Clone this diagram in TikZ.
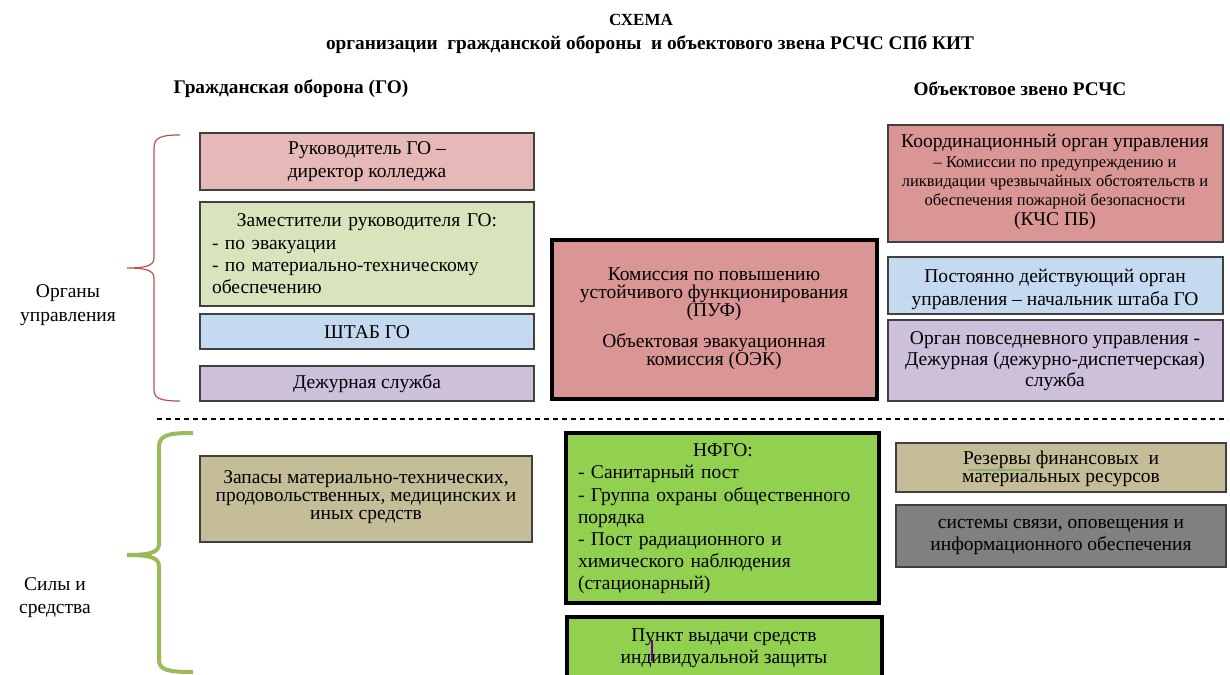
\documentclass[tikz,border=0pt]{standalone}
\usepackage{fontspec}
\setmainfont{Liberation Serif}
\usetikzlibrary{decorations.pathmorphing}
\definecolor{cPink}{HTML}{E6B8B7}
\definecolor{cLGreen}{HTML}{D8E4BC}
\definecolor{cBlue}{HTML}{C5D9F1}
\definecolor{cLilac}{HTML}{CCC0DA}
\definecolor{cRed}{HTML}{DA9694}
\definecolor{cKhaki}{HTML}{C4BD97}
\definecolor{cGreen}{HTML}{92D050}
\definecolor{cGray}{HTML}{808080}
\definecolor{cBraceR}{HTML}{C0504D}
\definecolor{cBraceG}{HTML}{9BBB59}
\definecolor{cEdge}{HTML}{404040}
\definecolor{cSpell}{HTML}{6BAA4B}
\begin{document}
\begin{tikzpicture}[x=1pt,y=-1pt,
  box/.style={draw=cEdge,line width=1.2pt},
  thickbox/.style={draw=black,line width=3.5pt},
  txt/.style={font=\fontsize{19.5}{22}\selectfont,align=center,inner sep=0pt,text=black},
  btxt/.style={font=\fontsize{19.3}{22}\selectfont\bfseries,align=center,inner sep=0pt}]
\clip (0,0) rectangle (1230,674);
\fill[white] (0,0) rectangle (1230,674);
% titles
\node[btxt,font=\fontsize{17}{20}\selectfont\bfseries] (t1) at (641,20) {СХЕМА};
\node[btxt] (t2) at (650,45) {организации\ \ гражданской обороны\ \ и объектового звена РСЧС СПб КИТ};
\node[btxt] (h1) at (291,89) {Гражданская оборона (ГО)};
\node[btxt] (h2) at (1020,89) {Объектовое звено РСЧС};
% left boxes
\draw[box,fill=cPink] (200,133) rectangle (534,190);
\node[txt,font=\fontsize{19.5}{23}\selectfont] (b1) at (367,162) {Руководитель ГО –\\директор колледжа};
\draw[box,fill=cLGreen] (200,202) rectangle (534,306);
\node[txt,align=left,font=\fontsize{19.5}{22.3}\selectfont,text width=310pt] (b2) at (367,254) {\makebox[\linewidth][c]{Заместители руководителя ГО:}\\- по эвакуации\\- по материально-техническому\\обеспечению};
\draw[box,fill=cBlue] (200,314) rectangle (534,349);
\node[txt] (b3) at (367,332) {ШТАБ ГО};
\draw[box,fill=cLilac] (200,366) rectangle (534,401);
\node[txt] (b4) at (367,384) {Дежурная служба};
% center top
\draw[thickbox,fill=cRed] (552,240) rectangle (877,399);
\node[txt,font=\fontsize{19.5}{18}\selectfont] (c1) at (714,319) {Комиссия по повышению\\устойчивого функционирования\\(ПУФ)\\[12pt]Объектовая эвакуационная\\комиссия (ОЭК)};
% right top
\draw[box,fill=cRed] (888,125) rectangle (1223,242);
\node[txt,font=\fontsize{16.5}{19.3}\selectfont] (r1) at (1055,182) {{\fontsize{19.5}{19.3}\selectfont Координационный орган управления}\\– Комиссии по предупреждению и\\ликвидации чрезвычайных обстоятельств и\\обеспечения пожарной безопасности\\{\fontsize{19.5}{19.3}\selectfont (КЧС ПБ)}};
\draw[box,fill=cBlue] (888,257) rectangle (1223,314);
\node[txt,font=\fontsize{19.5}{23}\selectfont] (r2) at (1055,289) {Постоянно действующий орган\\управления – начальник штаба ГО};
\draw[box,fill=cLilac] (888,320) rectangle (1223,401);
\node[txt,font=\fontsize{19.5}{21}\selectfont] (r3) at (1055,361) {Орган повседневного управления -\\Дежурная (дежурно-диспетчерская)\\служба};
% left labels and braces
\node[txt,font=\fontsize{19.5}{24}\selectfont] (l1) at (68,305) {Органы\\управления};
\node[txt,font=\fontsize{19.5}{23}\selectfont] (l2) at (55,598) {Силы и\\средства};
\draw[cBraceR,line width=1.2pt] (180,135) .. controls (162,135) and (154,137) .. (154,148) -- (154,258) .. controls (154,266) and (145,268) .. (127,268) .. controls (145,268) and (154,270) .. (154,278) -- (154,390) .. controls (154,399) and (162,401) .. (180,401);
\draw[cBraceG,line width=4pt] (193,433) .. controls (168,433) and (159,435) .. (159,447) -- (159,544) .. controls (159,553) and (148,555) .. (127,555) .. controls (148,555) and (159,557) .. (159,566) -- (159,660) .. controls (159,670) and (168,672) .. (193,672);
% dashed separator
\coordinate (dL) at (157,419);
\coordinate (dR) at (1228,419);
\draw[black,line width=1.2pt,dash pattern=on 5pt off 4pt] (dL) -- (dR);
% bottom boxes
\draw[box,fill=cKhaki] (200,456) rectangle (532,542);
\node[txt,font=\fontsize{19.5}{18}\selectfont] (s1) at (366,497) {Запасы материально-технических,\\продовольственных, медицинских и\\иных средств};
\draw[thickbox,fill=cGreen] (566,433) rectangle (879,603);
\node[txt,align=left,font=\fontsize{19.5}{22.2}\selectfont,text width=290pt] (n1) at (723,519) {\makebox[\linewidth][c]{НФГО:}\\- Санитарный пост\\- Группа охраны общественного\\порядка\\- Пост радиационного и\\химического наблюдения\\(стационарный)};
\draw[thickbox,fill=cGreen] (567,617) rectangle (882,700);
\node[txt,font=\fontsize{19.5}{21.5}\selectfont] (n2) at (724,648) {Пункт выдачи средств\\индивидуальной защиты};
\draw[violet!80!blue,line width=1.5pt] (652,640) -- (652,661);
\draw[box,fill=cKhaki] (896,443) rectangle (1226,492);
\node[txt,font=\fontsize{19.5}{18}\selectfont] (s2) at (1061,469) {Резервы финансовых\ \ и\\материальных ресурсов};
\draw[cSpell,line width=0.6pt,decorate,decoration={snake,amplitude=0.8pt,segment length=2.5pt}] (968,470) -- (1031,470);
\draw[box,fill=cGray] (896,505) rectangle (1226,567);
\node[txt,font=\fontsize{19.5}{21.5}\selectfont] (s3) at (1061,537) {системы связи, оповещения и\\информационного обеспечения};
\end{tikzpicture}
\end{document}
